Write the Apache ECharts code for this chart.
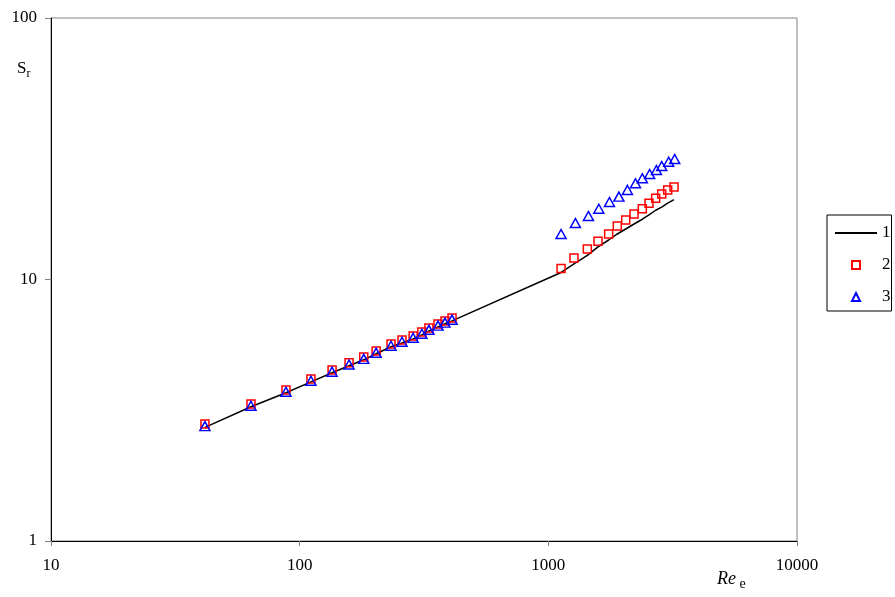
<!DOCTYPE html>
<html>
<head>
<meta charset="utf-8">
<script src="https://cdn.jsdelivr.net/npm/echarts@6/dist/echarts.min.js"></script>
<style>html,body{margin:0;padding:0;background:#fff;}#c{width:895px;height:597px;}</style>
</head>
<body>
<div id="c"></div>
<script>
// ---- data ----
var xTicks = [10, 100, 1000, 10000];
var yTicks = [1, 10, 100];
var seriesNames = ['1', '2', '3'];

var lowX = [41.6, 63.7, 88.1, 111, 135, 158, 181, 203, 233, 258, 286, 310, 331, 360, 384, 410];
var highXSq = [1125, 1268, 1435, 1584, 1748, 1894, 2047, 2211, 2388, 2540, 2702, 2857, 3020, 3202];
var highXTri = [1125, 1285, 1450, 1596, 1761, 1922, 2080, 2241, 2388, 2555, 2720, 2857, 3047, 3222];

// series 1 (model line)
var lineLowY = [2.72, 3.26, 3.69, 4.06, 4.40, 4.68, 4.93, 5.20, 5.53, 5.72, 5.93, 6.14, 6.36, 6.59, 6.77, 6.95];
var lineHighY = [10.64, 11.47, 12.36, 13.32, 14.16, 14.93, 15.6, 16.3, 17.0, 17.65, 18.4, 18.9, 19.6, 20.2];
// series 2 (squares)
var sqLowY = [2.80, 3.34, 3.78, 4.16, 4.51, 4.80, 5.05, 5.33, 5.67, 5.87, 6.08, 6.30, 6.52, 6.76, 6.94, 7.13];
var sqHighY = [11.02, 12.08, 13.09, 14.0, 14.93, 16.02, 16.89, 17.8, 18.65, 19.56, 20.44, 21.23, 22.0, 22.6];
// series 3 (triangles)
var triLowY = [2.75, 3.29, 3.72, 4.10, 4.44, 4.73, 4.97, 5.25, 5.58, 5.78, 5.99, 6.20, 6.42, 6.66, 6.84, 7.02];
var triHighY = [14.93, 16.45, 17.49, 18.65, 19.79, 20.74, 22.0, 23.33, 24.38, 25.31, 26.22, 27.17, 28.21, 28.89];

function pairs(xs, ys) { var out = []; for (var i = 0; i < xs.length; i++) out.push([xs[i], ys[i]]); return out; }

var lineData = pairs(lowX, lineLowY).concat(pairs(highXSq, lineHighY));
var sqData = pairs(lowX, sqLowY).concat(pairs(highXSq, sqHighY));
var triData = pairs(lowX, triLowY).concat(pairs(highXTri, triHighY));

var FONT = '"Liberation Serif", "Times New Roman", serif';

var chart = echarts.init(document.getElementById('c'), null, {renderer: 'canvas'});
chart.setOption({
  animation: false,
  backgroundColor: '#fff',
  grid: {left: 51, top: 18, right: 98, bottom: 56, show: true, borderColor: '#808080', borderWidth: 1, backgroundColor: 'transparent'},
  xAxis: {
    type: 'log', logBase: 10, min: xTicks[0], max: xTicks[xTicks.length - 1],
    axisLine: {show: true, lineStyle: {color: '#000', width: 1}},
    axisTick: {show: true, inside: false, length: 5, lineStyle: {color: '#808080'}},
    minorTick: {show: false},
    splitLine: {show: false},
    axisLabel: {color: '#000', fontFamily: FONT, fontSize: 17, margin: 16,
      formatter: function (v) { return String(Math.round(v)); }}
  },
  yAxis: {
    type: 'log', logBase: 10, min: yTicks[0], max: yTicks[yTicks.length - 1],
    axisLine: {show: true, lineStyle: {color: '#000', width: 1}},
    axisTick: {show: true, inside: false, length: 6, lineStyle: {color: '#808080'}},
    minorTick: {show: false},
    splitLine: {show: false},
    axisLabel: {color: '#000', fontFamily: FONT, fontSize: 17, margin: 14,
      formatter: function (v) { return String(Math.round(v)); }}
  },
  legend: {
    orient: 'vertical', left: 827, top: 215,
    borderColor: '#000', borderWidth: 1, borderRadius: 0,
    padding: [9, 1, 5, 7],
    itemWidth: 42, itemHeight: 10, itemGap: 14,
    textStyle: {color: '#000', fontFamily: FONT, fontSize: 17, lineHeight: 18, padding: [0, 0, 0, 0]},
    data: [
      {name: seriesNames[0], itemStyle: {opacity: 0}},
      {name: seriesNames[1]},
      {name: seriesNames[2]}
    ],
    selectedMode: false
  },
  graphic: [
    {type: 'text', left: 17, top: 60, silent: true,
     style: {text: '{s|S}{r|r}', rich: {
       s: {fontFamily: FONT, fontSize: 17, fill: '#000', verticalAlign: 'bottom'},
       r: {fontFamily: FONT, fontSize: 12, fill: '#000', verticalAlign: 'bottom', padding: [0, 0, -3, 0]}
     }}},
    {type: 'text', left: 717, top: 570, silent: true,
     style: {text: '{re|Re}{e| e}', rich: {
       re: {fontFamily: FONT, fontSize: 18, fontStyle: 'italic', fill: '#000', verticalAlign: 'bottom'},
       e: {fontFamily: FONT, fontSize: 14, fill: '#000', verticalAlign: 'bottom', padding: [0, 0, -3, 0]}
     }}}
  ],
  series: [
    {name: seriesNames[0], type: 'line', data: lineData, symbol: 'none', z: 2, silent: true,
     lineStyle: {color: '#000', width: 1.5}, itemStyle: {color: '#000'}},
    {name: seriesNames[1], type: 'line', data: sqData, symbol: 'rect', symbolSize: 8, z: 3, silent: true,
     lineStyle: {width: 0, opacity: 0},
     itemStyle: {color: 'rgba(0,0,0,0)', borderColor: '#ff0000', borderWidth: 1.5}},
    {name: seriesNames[2], type: 'line', data: triData, symbol: 'triangle', symbolSize: [10, 9], z: 4, silent: true,
     lineStyle: {width: 0, opacity: 0},
     itemStyle: {color: 'rgba(0,0,0,0)', borderColor: '#0000ff', borderWidth: 1.5}}
  ]
});
</script>
</body>
</html>
